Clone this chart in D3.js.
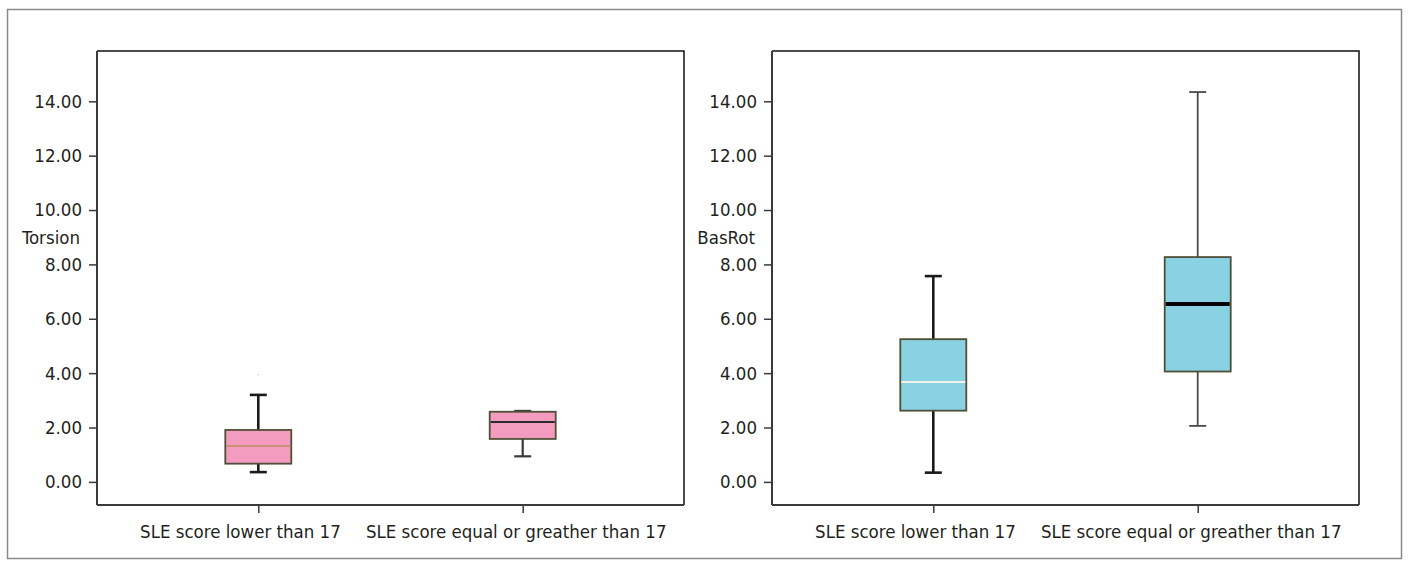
<!DOCTYPE html>
<html>
<head>
<meta charset="utf-8">
<script src="https://cdn.jsdelivr.net/npm/d3@7"></script>
<style>
  body { margin: 0; background: #fff; }
  svg { display: block; }
  text { font-family: "Liberation Sans Narrow", "DejaVu Sans Condensed", sans-serif; fill: #231f20; }
</style>
</head>
<body>
<div id="chart"></div>
<script>
const width = 1410;
const height = 568;

const categories = ["SLE score lower than 17", "SLE score equal or greather than 17"];
const yTicks = [0, 2, 4, 6, 8, 10, 12, 14];

// box stats: [whiskerLow, q1, median, q3, whiskerHigh]
const torsionStats = [
	[0.36, 0.67, 1.32, 1.91, 3.2],
	[0.94, 1.58, 2.2, 2.58, 2.61],
];
const torsionOutliers = [[0, 3.94]];

const basrotStats = [
	[0.34, 2.62, 3.67, 5.25, 7.57],
	[2.06, 4.06, 6.54, 8.27, 14.34],
];

const panels = [
	{
		label: "Torsion",
		stats: torsionStats,
		outliers: torsionOutliers,
		left: 97,
		fill: "#f49bc0",
		medians: ["#c99275", "#2a2a2a"],
		medianWidth: [2, 2],
		whisker: [{ c: "#1a1a1a", w: 2.6 }, { c: "#3a3a3a", w: 2.2 }],
	},
	{
		label: "BasRot",
		stats: basrotStats,
		outliers: [],
		left: 772,
		fill: "#88d2e3",
		medians: ["#f2f2e6", "#000"],
		medianWidth: [2, 4],
		whisker: [{ c: "#1a1a1a", w: 2.6 }, { c: "#4a4a4a", w: 1.8 }],
	},
];

const plotW = 587;
const plotTop = 51;
const plotBottom = 505;
const boxW = 66;
const capW = 17;
const fontSize = 18.5;

const svg = d3
	.select("#chart")
	.append("svg")
	.attr("width", width)
	.attr("height", height);

// outer frame
svg.append("rect")
	.attr("x", 7.5)
	.attr("y", 9.5)
	.attr("width", 1394)
	.attr("height", 549)
	.attr("fill", "none")
	.attr("stroke", "#8a8a8a")
	.attr("stroke-width", 1.5);

const y = d3.scaleLinear().domain([-0.85, 15.85]).range([plotBottom, plotTop]);

panels.forEach(p => {
	const g = svg.append("g").attr("transform", `translate(${p.left},0)`);
	const x = d3.scalePoint().domain(categories).range([0, plotW]).padding(0.61);

	// frame (top + right thin black)
	g.append("path")
		.attr("d", `M0,${plotTop}H${plotW}V${plotBottom}`)
		.attr("fill", "none")
		.attr("stroke", "#111")
		.attr("stroke-width", 1.5);

	// y axis
	const yAxis = g.append("g").call(
		d3.axisLeft(y).tickValues(yTicks).tickFormat(d3.format(".2f")).tickSize(8).tickPadding(7)
	);
	yAxis.select(".domain").attr("stroke", "#3a3a3a").attr("stroke-width", 2).attr("d", `M0,${plotTop}V${plotBottom}`);
	yAxis.selectAll(".tick line").attr("stroke", "#3a3a3a").attr("stroke-width", 1.5);
	yAxis.selectAll("text").attr("font-size", fontSize).attr("fill", "#231f20");

	// x axis
	const xAxis = g.append("g").attr("transform", `translate(0,${plotBottom})`).call(
		d3.axisBottom(x).tickSize(8).tickPadding(12)
	);
	xAxis.select(".domain").attr("stroke", "#3a3a3a").attr("stroke-width", 2).attr("d", `M0,0H${plotW}`);
	xAxis.selectAll(".tick line").attr("stroke", "#3a3a3a").attr("stroke-width", 1.5);
	xAxis.selectAll("text")
		.attr("font-size", fontSize)
		.attr("fill", "#231f20")
		.attr("text-anchor", (d, i) => (i === 0 ? "end" : "middle"))
		.attr("dx", (d, i) => (i === 0 ? 82 : -7));

	// y label
	g.append("text")
		.attr("x", -17)
		.attr("y", y(9))
		.attr("dy", "0.35em")
		.attr("text-anchor", "end")
		.attr("font-size", fontSize)
		.text(p.label);

	// boxes
	p.stats.forEach((s, i) => {
		const cx = x(categories[i]);
		const [lo, q1, med, q3, hi] = s;
		const wk = p.whisker[i];
		g.append("line")
			.attr("x1", cx).attr("x2", cx)
			.attr("y1", y(hi)).attr("y2", y(q3))
			.attr("stroke", wk.c).attr("stroke-width", wk.w);
		g.append("line")
			.attr("x1", cx).attr("x2", cx)
			.attr("y1", y(q1)).attr("y2", y(lo))
			.attr("stroke", wk.c).attr("stroke-width", wk.w);
		[lo, hi].forEach(v => {
			g.append("line")
				.attr("x1", cx - capW / 2).attr("x2", cx + capW / 2)
				.attr("y1", y(v)).attr("y2", y(v))
				.attr("stroke", wk.c).attr("stroke-width", wk.w);
		});
		g.append("rect")
			.attr("x", cx - boxW / 2)
			.attr("y", y(q3))
			.attr("width", boxW)
			.attr("height", y(q1) - y(q3))
			.attr("fill", p.fill)
			.attr("stroke", "#4f4f38")
			.attr("stroke-width", 1.8);
		g.append("line")
			.attr("x1", cx - boxW / 2 + 1).attr("x2", cx + boxW / 2 - 1)
			.attr("y1", y(med)).attr("y2", y(med))
			.attr("stroke", p.medians[i]).attr("stroke-width", p.medianWidth[i]);
	});

	p.outliers.forEach(([i, v]) => {
		g.append("circle")
			.attr("cx", x(categories[i]))
			.attr("cy", y(v))
			.attr("r", 1)
			.attr("fill", "#d8d8d8");
	});
});
</script>
</body>
</html>
